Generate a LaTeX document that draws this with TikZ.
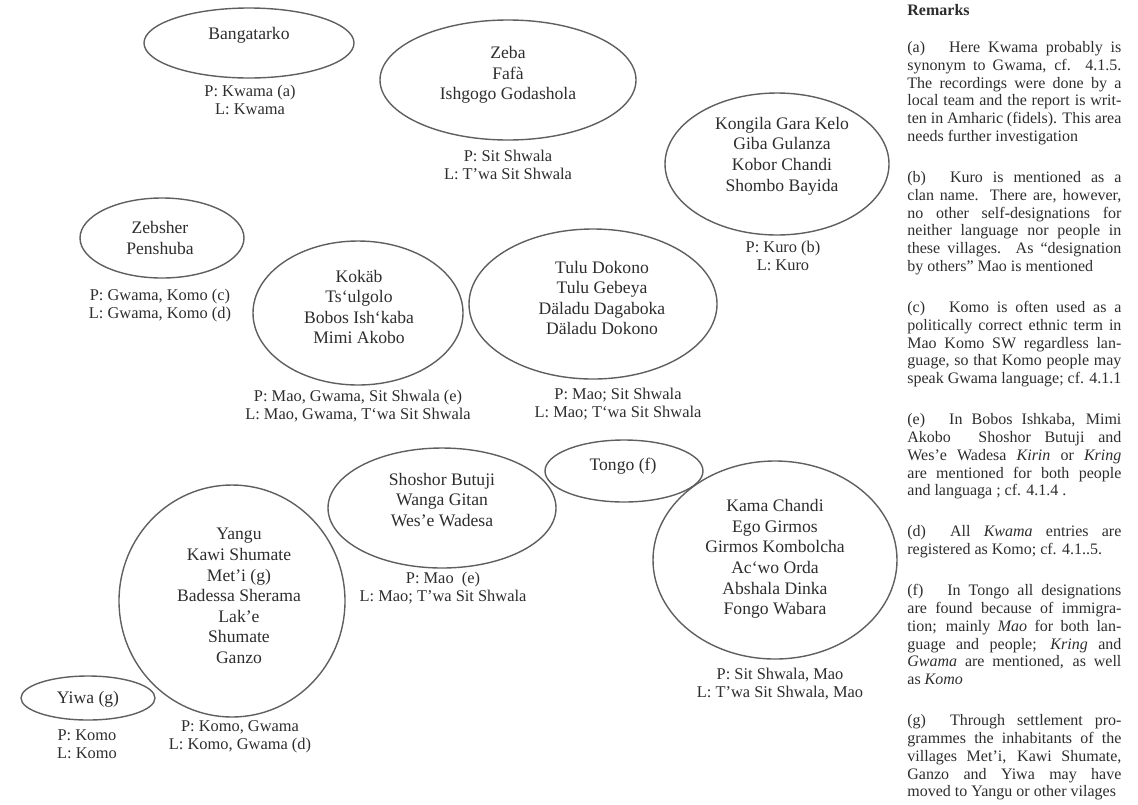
\documentclass[tikz,border=0pt]{standalone}
\usepackage{fontspec}
\setmainfont{Liberation Serif}[WordSpace={1,1,2.6}]
\usetikzlibrary{shapes.geometric}
\definecolor{rimG}{RGB}{95,95,95}
\definecolor{txtG}{RGB}{45,45,45}
\tikzset{
  vill/.style={draw=rimG, line width=0.7pt, ellipse, inner sep=0pt},
  names/.style={align=center, font=\fontsize{8.8}{10.3}\selectfont, text=txtG, inner sep=0pt},
  desig/.style={align=center, font=\fontsize{8.2}{9}\selectfont, text=txtG, inner sep=0pt},
  rem/.style={text width=107pt, align=justify, inner sep=0pt, text=txtG,
    font=\fontsize{8}{8.9}\selectfont,
    execute at begin node={\parindent=0pt\tolerance=10000\pretolerance=10000\hyphenpenalty=10000}}
}

\begin{document}
\begin{tikzpicture}[x=0.5pt, y=-0.5pt]
\useasboundingbox (0,0) rectangle (1138,804);
% top row
\node[vill, minimum width=105pt, minimum height=35pt] (bang) at (249,43) {};
\node[names] (bangN) at (249,35) {Bangatarko};
\node[desig] (bangD) at (250,100) {P: Kwama (a)\\ L: Kwama};
\node[vill, minimum width=128pt, minimum height=60pt] (zeba) at (508,80) {};
\node[names] (zebaN) at (508,75) {Zeba\\ Fafà\\ Ishgogo Godashola};
\node[desig] (zebaD) at (508,165) {P: Sit Shwala\\ L: T’wa Sit Shwala};
\node[vill, minimum width=112pt, minimum height=71pt] (kong) at (777,164) {};
\node[names] (kongN) at (782,156) {Kongila Gara Kelo\\ Giba Gulanza\\ Kobor Chandi\\ Shombo Bayida};
\node[desig] (kongD) at (783,256) {P: Kuro (b)\\ L: Kuro};
% middle row
\node[vill, minimum width=82pt, minimum height=40pt] (zebs) at (162,238) {};
\node[names] (zebsN) at (160,238) {Zebsher\\ Penshuba};
\node[desig] (zebsD) at (160,306) {P: Gwama, Komo (c)\\ L: Gwama, Komo (d)};
\node[vill, minimum width=105pt, minimum height=72pt] (koka) at (358,313) {};
\node[names] (kokaN) at (359,307) {Kokäb\\ Ts‘ulgolo\\ Bobos Ish‘kaba\\ Mimi Akobo};
\node[desig] (kokaD) at (358,406) {P: Mao, Gwama, Sit Shwala (e)\\ L: Mao, Gwama, T‘wa Sit Shwala};
\node[vill, minimum width=124pt, minimum height=75pt] (tulu) at (593,304) {};
\node[names] (tuluN) at (602,298) {Tulu Dokono\\ Tulu Gebeya\\ Däladu Dagaboka\\ Däladu Dokono};
\node[desig] (tuluD) at (618,404) {P: Mao; Sit Shwala\\ L: Mao; T‘wa Sit Shwala};
% lower row
\node[vill, minimum width=114pt, minimum height=60pt] (shos) at (442,508) {};
\node[names] (shosN) at (442,500) {Shoshor Butuji\\ Wanga Gitan\\ Wes’e Wadesa};
\node[desig] (shosD) at (443,588) {P: Mao~~(e)\\ L: Mao; T’wa Sit Shwala};
\node[vill, minimum width=79pt, minimum height=31pt] (tong) at (624,471) {};
\node[names] (tongN) at (623,466) {Tongo (f)};
\node[vill, minimum width=113pt, minimum height=116pt] (yang) at (232,601) {};
\node[names] (yangN) at (239,596) {Yangu\\ Kawi Shumate\\ Met’i (g)\\ Badessa Sherama\\ Lak’e\\ Shumate\\ Ganzo};
\node[desig] (yangD) at (240,737) {P: Komo, Gwama\\ L: Komo, Gwama (d)};
\node[vill, minimum width=67pt, minimum height=22pt] (yiwa) at (88,698) {};
\node[names] (yiwaN) at (88,699) {Yiwa (g)};
\node[desig] (yiwaD) at (87,744) {P: Komo\\ L: Komo};
\node[vill, minimum width=122pt, minimum height=99pt] (kama) at (775,560) {};
\node[names] (kamaN) at (775,559) {Kama Chandi\\ Ego Girmos\\ Girmos Kombolcha\\ Ac‘wo Orda\\ Abshala Dinka\\ Fongo Wabara};
\node[desig] (kamaD) at (780,684) {P: Sit Shwala, Mao\\ L: T’wa Sit Shwala, Mao};
% remarks column
\node[rem, anchor=north west] (remarks) at (907,4) {\textbf{Remarks}\par\vspace{9.6pt}
(a)\hspace{1.5em}Here Kwama probably is\linebreak
synonym to Gwama, cf. 4.1.5.\linebreak
The recordings were done by a\linebreak
local team and the report is writ-\linebreak
ten in Amharic (fidels). This area\linebreak
needs further investigation\par\vspace{11.6pt}
(b)\hspace{1.5em}Kuro is mentioned as a\linebreak
clan name. There are, however,\linebreak
no other self-designations for\linebreak
neither language nor people in\linebreak
these villages. As “designation\linebreak
by others” Mao is mentioned\par\vspace{11.6pt}
(c)\hspace{1.5em}Komo\ is often used as a\linebreak
politically correct ethnic term in\linebreak
Mao Komo SW regardless lan-\linebreak
guage, so that Komo people may\linebreak
speak Gwama language; cf. 4.1.1\par\vspace{11.6pt}
(e)\hspace{1.5em}In Bobos Ishkaba, Mimi\linebreak
Akobo\ \ Shoshor Butuji and\linebreak
Wes’e Wadesa \textit{Kirin} or \textit{Kring}\linebreak
are mentioned for both people\linebreak
and languaga ; cf. 4.1.4 .\par\vspace{11.6pt}
(d)\hspace{1.5em}All \textit{Kwama} entries are\linebreak
registered as Komo; cf. 4.1..5.\par\vspace{11.6pt}
(f)\hspace{1.5em}In Tongo all designations\linebreak
are found because of immigra-\linebreak
tion; mainly \textit{Mao} for both lan-\linebreak
guage and people; \textit{Kring} and\linebreak
\textit{Gwama} are mentioned, as well\linebreak
as \textit{Komo}\par\vspace{11.6pt}
(g)\hspace{1.5em}Through settlement pro-\linebreak
grammes the inhabitants of the\linebreak
villages Met’i, Kawi Shumate,\linebreak
Ganzo and Yiwa may have\linebreak
moved to Yangu or other vilages};
\end{tikzpicture}
\end{document}
